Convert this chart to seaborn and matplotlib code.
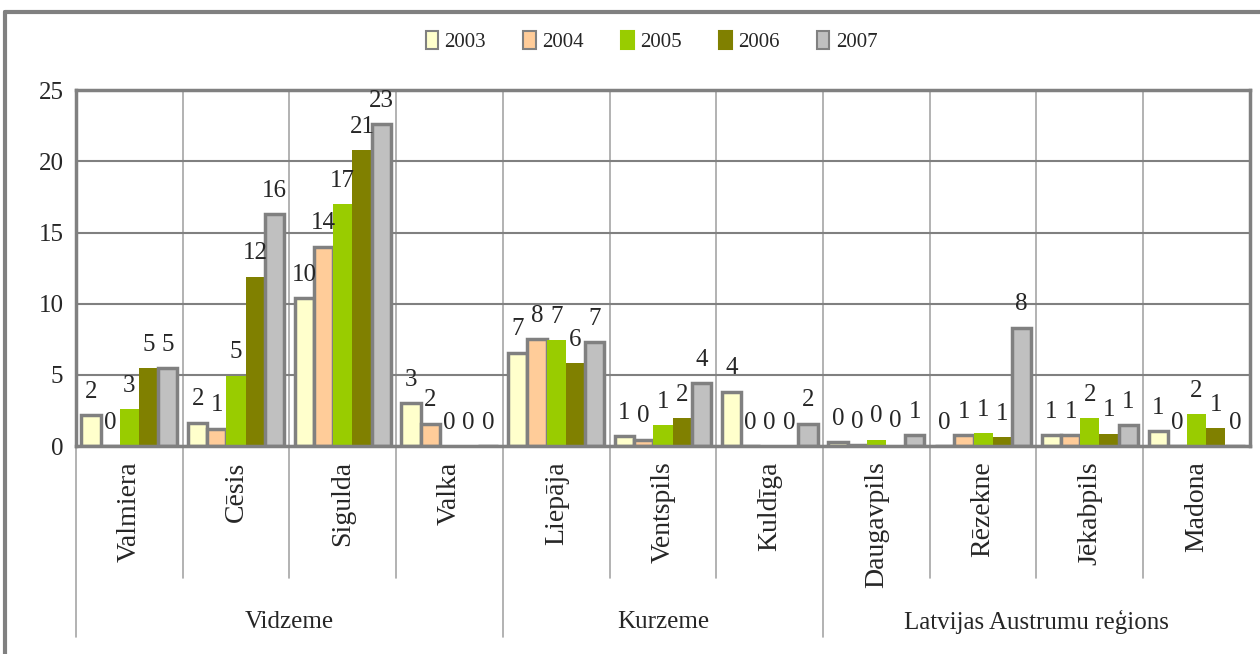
import numpy as np
import pandas as pd
import seaborn as sns
import matplotlib.pyplot as plt
from matplotlib.patches import Patch
from matplotlib.lines import Line2D

# DATI
pilsetas = ["Valmiera", "Cēsis", "Sigulda", "Valka", "Liepāja", "Ventspils",
            "Kuldīga", "Daugavpils", "Rēzekne", "Jēkabpils", "Madona"]
regioni = ["Vidzeme", "Kurzeme", "Latvijas Austrumu reģions"]
regionu_skaits = [4, 3, 4]
gadi = ["2003", "2004", "2005", "2006", "2007"]

v2003 = [2.15, 1.65, 10.4, 3.0, 6.55, 0.7, 3.8, 0.25, 0.0, 0.75, 1.05]
v2004 = [0.0, 1.2, 14.0, 1.55, 7.52, 0.45, 0.0, 0.05, 0.75, 0.75, 0.0]
v2005 = [2.6, 4.95, 17.0, 0.0, 7.45, 1.45, 0.0, 0.45, 0.9, 1.95, 2.25]
v2006 = [5.45, 11.9, 20.8, 0.0, 5.8, 1.95, 0.0, 0.1, 0.6, 0.85, 1.25]
v2007 = [5.45, 16.3, 22.6, 0.0, 7.3, 4.4, 1.55, 0.75, 8.3, 1.45, 0.0]
vertibas = [v2003, v2004, v2005, v2006, v2007]

krasas = ["#FFFFCC", "#FFCC99", "#99CC00", "#808000", "#C0C0C0"]
ar_malu = [True, True, False, False, True]

df = pd.DataFrame({
    "Pilseta": pilsetas * len(gadi),
    "Gads": [g for g in gadi for _ in pilsetas],
    "Vertiba": [v for vals in vertibas for v in vals],
})

sns.set_style("white")
plt.rcParams["font.family"] = ["Liberation Serif", "DejaVu Serif"]
pelēks = "#808080"

fig = plt.figure(figsize=(12.6, 6.54), dpi=100)
ax = fig.add_axes([0.0603, 0.318, 0.9317, 0.544])

sns.barplot(data=df, x="Pilseta", y="Vertiba", hue="Gads", palette=krasas,
            saturation=1, width=0.9, legend=False, ax=ax)

for c, mala in zip(ax.containers, ar_malu):
    for bar in c:
        if mala:
            bar.set_edgecolor(pelēks)
            bar.set_linewidth(2.5)
        else:
            bar.set_linewidth(0)
    ax.bar_label(c, fmt="%.0f", padding=9, fontsize=18)

# asis
ax.set_ylim(0, 25)
ax.set_xlim(-0.5, len(pilsetas) - 0.5)
ax.set_yticks(range(0, 26, 5))
ax.tick_params(axis="y", labelsize=18, length=5, color=pelēks, width=1.5, pad=4)
ax.tick_params(axis="x", labelsize=20, length=0, pad=11)
ax.set_xticks(range(len(pilsetas)))
ax.set_xticklabels(pilsetas, rotation=90, va="top", ha="center")
ax.set_xticks(np.arange(-0.5, len(pilsetas), 1), minor=True)
ax.tick_params(axis="x", which="minor", length=0)
ax.set_xlabel("")
ax.set_ylabel("")
ax.grid(axis="y", which="major", color=pelēks, linewidth=1.5)
ax.grid(axis="x", which="minor", color="#A6A6A6", linewidth=1.2)
ax.set_axisbelow(True)
for s in ax.spines.values():
    s.set_color(pelēks)
    s.set_linewidth(2.5)

# divlīmeņu kategoriju ass
trans = ax.get_xaxis_transform()
robezas = np.cumsum([0] + regionu_skaits) - 0.5
for x in np.arange(-0.5, len(pilsetas) - 1, 1):
    apaksa = -0.537 if x in robezas else -0.371
    ax.add_line(Line2D([x, x], [0, apaksa], transform=trans, color="#A6A6A6",
                       linewidth=1.2, clip_on=False))
for i, nosaukums in enumerate(regioni):
    centrs = (robezas[i] + robezas[i + 1]) / 2
    ax.text(centrs, -0.494, nosaukums, transform=trans, ha="center", va="center",
            fontsize=18)

# leģenda
rokturi = [Patch(facecolor=k, edgecolor=pelēks if m else k, linewidth=1.5)
           for k, m in zip(krasas, ar_malu)]
fig.legend(rokturi, gadi, loc="center", bbox_to_anchor=(0.517, 0.936), ncol=5,
           frameon=False, fontsize=15, handlelength=0.6, handleheight=0.9,
           handletextpad=0.3, columnspacing=1.8)

# diagrammas rāmis
fig.add_artist(Line2D([0.004, 1.0], [0.982, 0.982], transform=fig.transFigure,
                      color=pelēks, linewidth=3))
fig.add_artist(Line2D([0.004, 0.004], [0.0, 0.982], transform=fig.transFigure,
                      color=pelēks, linewidth=3))

fig.savefig("out.png", dpi=100)
